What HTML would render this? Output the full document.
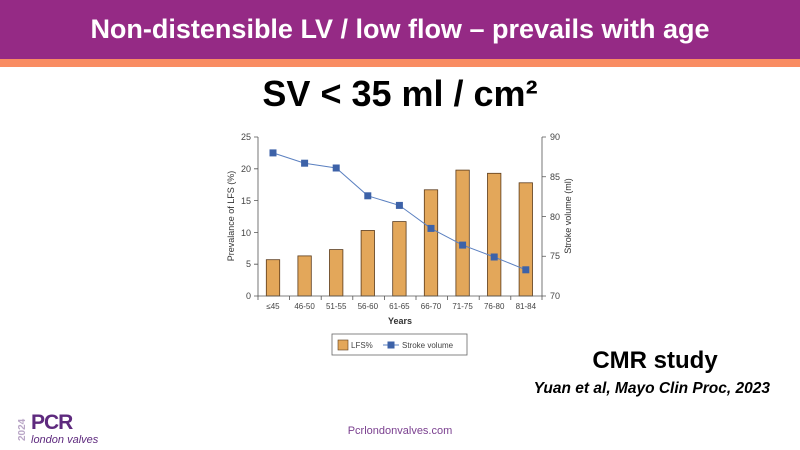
<!DOCTYPE html>
<html><head><meta charset="utf-8"><style>
html,body{margin:0;padding:0;width:800px;height:450px;overflow:hidden;background:#fff;font-family:"Liberation Sans",sans-serif}
.top{position:absolute;left:0;top:0;width:800px;height:59px;background:#952a85;color:#fff;font-weight:bold;font-size:27px;text-align:center;line-height:59px}
.stripe{position:absolute;left:0;top:59px;width:800px;height:8px;background:#f98c62}
.h{position:absolute;left:0;width:800px;text-align:center;font-weight:bold}
</style></head><body>
<div class="top">Non-distensible LV / low flow – prevails with age</div>
<div class="stripe"></div>
<div class="h" style="top:73px;font-size:36px;">SV &lt; 35 ml / cm²</div>
<svg width="800" height="450" style="position:absolute;left:0;top:0" font-family="Liberation Sans, sans-serif">
<g fill="#e3a75a" stroke="#5a3a1a" stroke-width="0.8">
<rect x="266.3" y="259.7" width="13.4" height="36.3"/>
<rect x="297.9" y="255.9" width="13.4" height="40.1"/>
<rect x="329.5" y="249.6" width="13.4" height="46.4"/>
<rect x="361.1" y="230.5" width="13.4" height="65.5"/>
<rect x="392.7" y="221.6" width="13.4" height="74.4"/>
<rect x="424.3" y="189.8" width="13.4" height="106.2"/>
<rect x="455.9" y="170.1" width="13.4" height="125.9"/>
<rect x="487.5" y="173.3" width="13.4" height="122.7"/>
<rect x="519.1" y="182.8" width="13.4" height="113.2"/>
</g>
<g stroke="#555" stroke-width="0.8" fill="none">
<path d="M258 137V296H542V137"/>
<path d="M254 137h4M254 168.8h4M254 200.6h4M254 232.4h4M254 264.2h4M254 296h4"/>
<path d="M542 137h4M542 176.75h4M542 216.5h4M542 256.25h4M542 296h4"/>
<path d="M258 296v4M289.6 296v4M321.2 296v4M352.8 296v4M384.4 296v4M416 296v4M447.6 296v4M479.2 296v4M510.8 296v4M542 296v4"/>
</g>
<polyline points="273,152.9 304.6,163.2 336.2,168 367.8,195.8 399.4,205.4 431,228.4 462.6,245.1 494.2,257 525.8,269.8" fill="none" stroke="#5b80c0" stroke-width="1"/>
<g fill="#3d62a8">
<rect x="269.5" y="149.4" width="7" height="7"/><rect x="301.1" y="159.7" width="7" height="7"/><rect x="332.7" y="164.5" width="7" height="7"/><rect x="364.3" y="192.3" width="7" height="7"/><rect x="395.9" y="201.9" width="7" height="7"/><rect x="427.5" y="224.9" width="7" height="7"/><rect x="459.1" y="241.6" width="7" height="7"/><rect x="490.7" y="253.5" width="7" height="7"/><rect x="522.3" y="266.3" width="7" height="7"/>
</g>
<g font-size="9" fill="#444" text-anchor="end">
<text x="251" y="140">25</text><text x="251" y="172">20</text><text x="251" y="204">15</text><text x="251" y="236">10</text><text x="251" y="267">5</text><text x="251" y="299">0</text>
</g>
<g font-size="9" fill="#444">
<text x="550" y="140">90</text><text x="550" y="180">85</text><text x="550" y="220">80</text><text x="550" y="259">75</text><text x="550" y="299">70</text>
</g>
<g font-size="8" fill="#444" text-anchor="middle">
<text x="273" y="309">≤45</text><text x="304.6" y="309">46-50</text><text x="336.2" y="309">51-55</text><text x="367.8" y="309">56-60</text><text x="399.4" y="309">61-65</text><text x="431" y="309">66-70</text><text x="462.6" y="309">71-75</text><text x="494.2" y="309">76-80</text><text x="525.8" y="309">81-84</text>
</g>
<text x="400" y="324" font-size="9" font-weight="bold" fill="#333" text-anchor="middle">Years</text>
<text transform="translate(234,216) rotate(-90)" font-size="9" fill="#333" text-anchor="middle">Prevalance of LFS (%)</text>
<text transform="translate(571,216) rotate(-90)" font-size="9" fill="#333" text-anchor="middle">Stroke volume (ml)</text>
<rect x="332" y="334" width="135" height="21" fill="none" stroke="#666" stroke-width="0.8"/>
<rect x="338" y="340" width="10" height="10" fill="#e3a75a" stroke="#5a3a1a" stroke-width="0.6"/>
<text x="351" y="348" font-size="8" fill="#444">LFS%</text>
<line x1="383" y1="345" x2="399" y2="345" stroke="#5b80c0"/>
<rect x="387.5" y="341.5" width="7" height="7" fill="#3d62a8"/>
<text x="402" y="348" font-size="8" fill="#444">Stroke volume</text>
<text x="655" y="368" font-size="24" font-weight="bold" text-anchor="middle" fill="#000">CMR study</text>
<text x="770" y="393" font-size="15.5" font-weight="bold" font-style="italic" text-anchor="end" fill="#000">Yuan et al, Mayo Clin Proc, 2023</text>
<text x="400" y="434" font-size="11" fill="#7a3f8f" text-anchor="middle">Pcrlondonvalves.com</text>
<text transform="translate(25,441) rotate(-90)" font-size="10" font-weight="bold" fill="#b9a6c6">2024</text>
<text x="31" y="429" font-size="21" font-weight="bold" fill="#5e2a7e" letter-spacing="-1">PCR</text>
<text x="31" y="443" font-size="11" font-style="italic" fill="#5e2a7e">london valves</text>
</svg>
</body></html>
